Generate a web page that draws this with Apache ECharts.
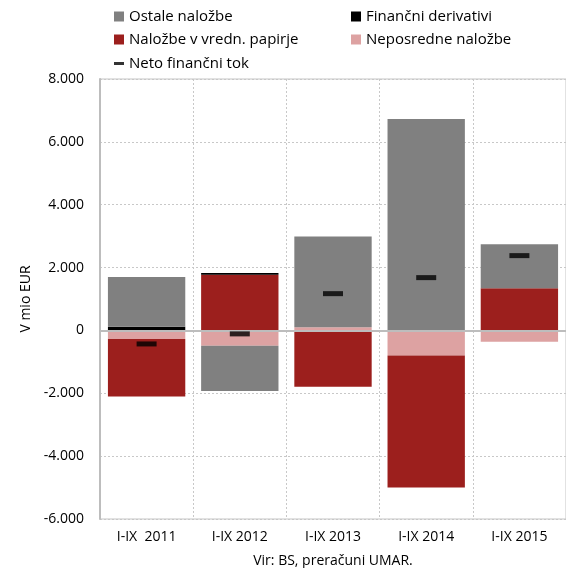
<!DOCTYPE html>
<html><head><meta charset="utf-8">
<script src="https://cdn.jsdelivr.net/npm/echarts@6/dist/echarts.min.js"></script>
<style>html,body{margin:0;padding:0;background:#fff}#c{width:566px;height:568px}</style>
</head><body><div id="c"></div>
<script>
const categories = ['I-IX  2011', 'I-IX 2012', 'I-IX 2013', 'I-IX 2014', 'I-IX 2015'];
const neposredne = [-270, -490, 100, -800, -360];
const vrednPapirji = [-1830, 1770, -1790, -4200, 1340];
const derivativi = [120, 60, 0, 0, 0];
const ostale = [1580, -1440, 2890, 6730, 1400];
const netoTok = [-430, -110, 1170, 1680, 2380];
const yTicks = [-6000, -4000, -2000, 0, 2000, 4000, 6000, 8000];

const FONT = 'Open Sans';
const chart = echarts.init(document.getElementById('c'));
const legTxt = { fontFamily: FONT, fontSize: 15, color: '#000' };
function leg(name, left, top, icon, w, h) {
  return { data: [{ name: name, icon: icon }], left: left, top: top, itemWidth: w, itemHeight: h,
    itemGap: 0, textStyle: legTxt, selectedMode: false, padding: 0 };
}
chart.setOption({
  animation: false,
  textStyle: { fontFamily: FONT },
  legend: [
    leg('Ostale naložbe', 114, 9, 'rect', 10, 10),
    leg('Naložbe v vredn. papirje', 114, 32, 'rect', 10, 10),
    leg('Neto finančni tok', 114, 56, 'rect', 10, 3),
    leg('Finančni derivativi', 351, 9, 'rect', 10, 10),
    leg('Neposredne naložbe', 351, 32, 'rect', 10, 10)
  ],
  grid: { left: 100, right: 0, top: 79, bottom: 49, show: true, borderColor: '#c4c4c4', borderWidth: 1,
    containLabel: false, outerBoundsMode: 'none' },
  xAxis: {
    type: 'category', data: categories,
    axisLine: { lineStyle: { color: '#bdbdbd', width: 2 } },
    axisTick: { show: false },
    axisLabel: { color: '#000', fontSize: 14, fontFamily: FONT, margin: 11 },
    splitLine: { show: true, lineStyle: { color: '#c8c8c8', type: [2, 2], width: 1 } },
    name: 'Vir: BS, preračuni UMAR.', nameLocation: 'middle', nameGap: 35,
    nameTextStyle: { color: '#000', fontSize: 14, fontFamily: FONT }
  },
  yAxis: {
    type: 'value', min: yTicks[0], max: yTicks[yTicks.length - 1], interval: 2000,
    axisLine: { show: true, lineStyle: { color: '#bdbdbd', width: 2 } },
    axisTick: { show: false },
    axisLabel: { color: '#000', fontSize: 14, fontFamily: FONT, margin: 16,
      formatter: v => (v < 0 ? '-' : '') + (Math.abs(v) >= 1000 ? Math.floor(Math.abs(v) / 1000) + '.000' : String(Math.abs(v))) },
    splitLine: { show: true, lineStyle: { color: '#c8c8c8', type: [2, 2], width: 1 } },
    name: 'V mio EUR', nameLocation: 'middle', nameGap: 63, nameRotate: 90,
    nameTextStyle: { color: '#000', fontSize: 14, fontFamily: FONT }
  },
  series: [
    { name: 'Neposredne naložbe', type: 'bar', stack: 't', data: neposredne, barCategoryGap: '17%',
      itemStyle: { color: '#dda2a2' },
      markLine: { silent: true, symbol: 'none', label: { show: false },
        lineStyle: { color: '#bdbdbd', width: 2, type: 'solid' }, data: [{ yAxis: 0 }], z: 5 } },
    { name: 'Naložbe v vredn. papirje', type: 'bar', stack: 't', data: vrednPapirji,
      itemStyle: { color: '#9c1f1d' } },
    { name: 'Finančni derivativi', type: 'bar', stack: 't', data: derivativi,
      itemStyle: { color: '#000' } },
    { name: 'Ostale naložbe', type: 'bar', stack: 't', data: ostale,
      itemStyle: { color: '#808080' } },
    { name: 'Neto finančni tok', type: 'scatter', data: netoTok, symbol: 'rect', symbolSize: [20, 5],
      itemStyle: { color: '#000' }, z: 10 }
  ]
});
</script></body></html>
